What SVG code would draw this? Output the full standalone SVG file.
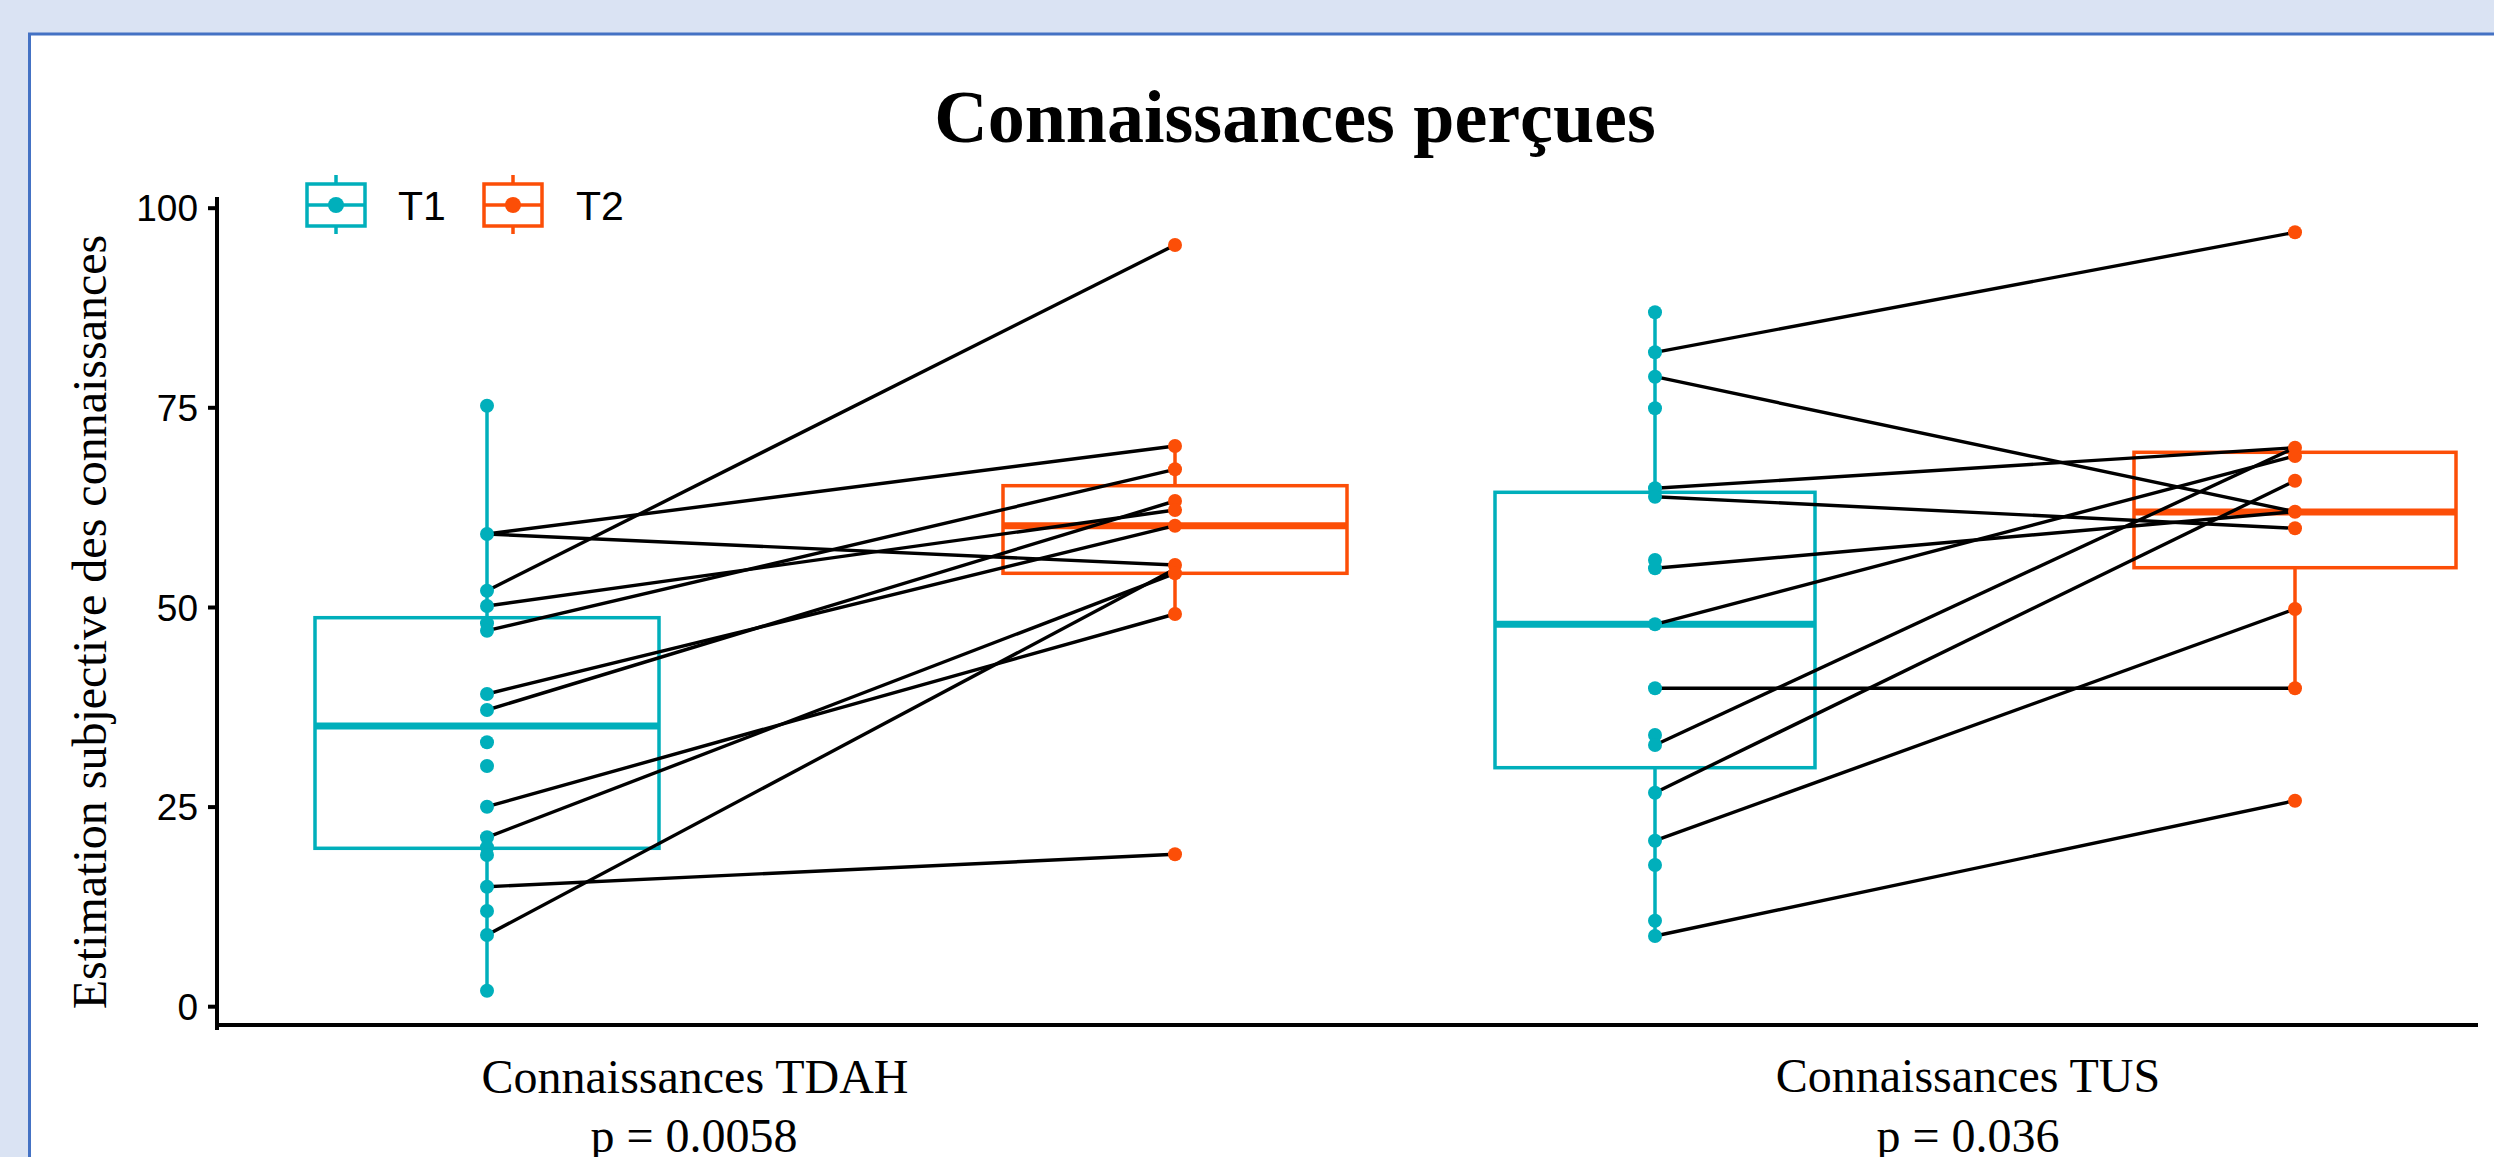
<svg xmlns="http://www.w3.org/2000/svg" width="2494" height="1157" viewBox="0 0 2494 1157">
<style>
.bg{fill:#DAE3F3}
.frame{fill:#ffffff;stroke:#4472C4;stroke-width:3}
.t1{stroke:#00AFBB;fill:none;stroke-width:3.5}
.t2{stroke:#FC4E07;fill:none;stroke-width:3.5}
.med1{stroke:#00AFBB;stroke-width:7}
.med2{stroke:#FC4E07;stroke-width:7}
.p1{fill:#00AFBB}
.p2{fill:#FC4E07}
.ax{stroke:#000;stroke-width:4;fill:none}
.conn line{stroke:#000;stroke-width:3.4;fill:none}
.tick{font-family:"Liberation Sans",Arial,sans-serif;font-size:37px;fill:#000;text-anchor:end}
.leg{font-family:"Liberation Sans",Arial,sans-serif;font-size:41px;fill:#000}
.serif{font-family:"Liberation Serif","Times New Roman",serif;fill:#000}
</style>
<rect class="bg" x="0" y="0" width="2494" height="1157"/>
<rect class="frame" x="29.5" y="34" width="2480" height="1140"/>

<g id="title"><text class="serif" x="1295" y="142" font-size="74" font-weight="bold" text-anchor="middle">Connaissances perçues</text></g>

<g id="legend">
  <line class="t1" x1="336" y1="175" x2="336" y2="234"/>
  <rect class="t1" x="307" y="184" width="58" height="42" style="fill:#fff"/>
  <line class="t1" x1="307" y1="205" x2="365" y2="205"/>
  <circle class="p1" cx="336" cy="205" r="8"/>
  <text class="leg" x="398" y="220">T1</text>
  <line class="t2" x1="513" y1="175" x2="513" y2="234"/>
  <rect class="t2" x="484" y="184" width="58" height="42" style="fill:#fff"/>
  <line class="t2" x1="484" y1="205" x2="542" y2="205"/>
  <circle class="p2" cx="513" cy="205" r="8"/>
  <text class="leg" x="576" y="220">T2</text>
</g>

<g id="axes">
  <line class="ax" x1="217" y1="197" x2="217" y2="1030"/>
  <line class="ax" x1="217" y1="1025" x2="2478" y2="1025"/>
  <g class="ax">
    <line x1="208" y1="208.2" x2="217" y2="208.2"/>
    <line x1="208" y1="407.8" x2="217" y2="407.8"/>
    <line x1="208" y1="607.5" x2="217" y2="607.5"/>
    <line x1="208" y1="807.1" x2="217" y2="807.1"/>
    <line x1="208" y1="1006.7" x2="217" y2="1006.7"/>
  </g>
  <text class="tick" x="198" y="221">100</text>
  <text class="tick" x="198" y="421">75</text>
  <text class="tick" x="198" y="621">50</text>
  <text class="tick" x="198" y="820">25</text>
  <text class="tick" x="198" y="1020">0</text>
  <text class="serif" font-size="48" text-anchor="middle" transform="translate(106,622) rotate(-90)">Estimation subjective des connaissances</text>
  <text class="serif" font-size="48" text-anchor="middle" x="695" y="1093">Connaissances TDAH</text>
  <text class="serif" font-size="48" text-anchor="middle" x="694" y="1152">p = 0.0058</text>
  <text class="serif" font-size="48" text-anchor="middle" x="1968" y="1092">Connaissances TUS</text>
  <text class="serif" font-size="48" text-anchor="middle" x="1968" y="1152">p = 0.036</text>
</g>

<g id="box-tdah-t1">
  <line class="t1" x1="487" y1="405.7" x2="487" y2="617.7"/>
  <line class="t1" x1="487" y1="848.3" x2="487" y2="990.7"/>
  <rect class="t1" x="315" y="617.7" width="344" height="230.6"/>
  <line class="med1" x1="315" y1="726" x2="659" y2="726"/>
</g>
<g id="box-tdah-t2">
  <line class="t2" x1="1175" y1="446" x2="1175" y2="485.7"/>
  <line class="t2" x1="1175" y1="573.3" x2="1175" y2="614"/>
  <rect class="t2" x="1003" y="485.7" width="344" height="87.6"/>
  <line class="med2" x1="1003" y1="525.7" x2="1347" y2="525.7"/>
</g>
<g id="box-tus-t1">
  <line class="t1" x1="1655" y1="312.3" x2="1655" y2="492.3"/>
  <line class="t1" x1="1655" y1="767.7" x2="1655" y2="936"/>
  <rect class="t1" x="1495" y="492.3" width="320" height="275.4"/>
  <line class="med1" x1="1495" y1="624.3" x2="1815" y2="624.3"/>
</g>
<g id="box-tus-t2">
  <line class="t2" x1="2295" y1="447.7" x2="2295" y2="452.3"/>
  <line class="t2" x1="2295" y1="567.7" x2="2295" y2="688.3"/>
  <rect class="t2" x="2134" y="452.3" width="322" height="115.4"/>
  <line class="med2" x1="2134" y1="512" x2="2456" y2="512"/>
</g>

<g id="connectors" class="conn">
  <line x1="487" y1="534" x2="1175" y2="446"/>
  <line x1="487" y1="534" x2="1175" y2="565"/>
  <line x1="487" y1="590.7" x2="1175" y2="245"/>
  <line x1="487" y1="606" x2="1175" y2="510"/>
  <line x1="487" y1="630.7" x2="1175" y2="469.3"/>
  <line x1="487" y1="694" x2="1175" y2="525.7"/>
  <line x1="487" y1="710" x2="1175" y2="501"/>
  <line x1="487" y1="806.7" x2="1175" y2="614"/>
  <line x1="487" y1="837.3" x2="1175" y2="573.3"/>
  <line x1="487" y1="886.7" x2="1175" y2="854.3"/>
  <line x1="487" y1="935" x2="1175" y2="569"/>
  <line x1="1655" y1="352.3" x2="2295" y2="232.3"/>
  <line x1="1655" y1="376.7" x2="2295" y2="511.7"/>
  <line x1="1655" y1="488.3" x2="2295" y2="447.7"/>
  <line x1="1655" y1="496.7" x2="2295" y2="528.3"/>
  <line x1="1655" y1="568.3" x2="2295" y2="511.7"/>
  <line x1="1655" y1="624.3" x2="2295" y2="456"/>
  <line x1="1655" y1="688.3" x2="2295" y2="688.3"/>
  <line x1="1655" y1="745" x2="2295" y2="447.7"/>
  <line x1="1655" y1="792.7" x2="2295" y2="480.7"/>
  <line x1="1655" y1="840.7" x2="2295" y2="609"/>
  <line x1="1655" y1="936" x2="2295" y2="800.7"/>
</g>

<g id="points-tdah-t1" class="p1">
  <circle cx="487" cy="405.7" r="7"/><circle cx="487" cy="534" r="7"/>
  <circle cx="487" cy="590.7" r="7"/><circle cx="487" cy="606" r="7"/>
  <circle cx="487" cy="623.3" r="7"/><circle cx="487" cy="630.7" r="7"/>
  <circle cx="487" cy="694" r="7"/><circle cx="487" cy="710" r="7"/>
  <circle cx="487" cy="742.3" r="7"/><circle cx="487" cy="766" r="7"/>
  <circle cx="487" cy="806.7" r="7"/><circle cx="487" cy="837.3" r="7"/>
  <circle cx="487" cy="847.3" r="7"/><circle cx="487" cy="855" r="7"/>
  <circle cx="487" cy="886.7" r="7"/><circle cx="487" cy="911" r="7"/>
  <circle cx="487" cy="935" r="7"/><circle cx="487" cy="990.7" r="7"/>
</g>
<g id="points-tdah-t2" class="p2">
  <circle cx="1175" cy="245" r="7"/><circle cx="1175" cy="446" r="7"/>
  <circle cx="1175" cy="469.3" r="7"/><circle cx="1175" cy="501" r="7"/>
  <circle cx="1175" cy="510" r="7"/><circle cx="1175" cy="525.7" r="7"/>
  <circle cx="1175" cy="565" r="7"/><circle cx="1175" cy="573.3" r="7"/>
  <circle cx="1175" cy="614" r="7"/><circle cx="1175" cy="854.3" r="7"/>
</g>
<g id="points-tus-t1" class="p1">
  <circle cx="1655" cy="312.3" r="7"/><circle cx="1655" cy="352.3" r="7"/>
  <circle cx="1655" cy="376.7" r="7"/><circle cx="1655" cy="408.3" r="7"/>
  <circle cx="1655" cy="488.3" r="7"/><circle cx="1655" cy="496.7" r="7"/>
  <circle cx="1655" cy="560" r="7"/><circle cx="1655" cy="568.3" r="7"/>
  <circle cx="1655" cy="624.3" r="7"/><circle cx="1655" cy="688.3" r="7"/>
  <circle cx="1655" cy="735" r="7"/><circle cx="1655" cy="745" r="7"/>
  <circle cx="1655" cy="792.7" r="7"/><circle cx="1655" cy="840.7" r="7"/>
  <circle cx="1655" cy="865" r="7"/><circle cx="1655" cy="920.7" r="7"/>
  <circle cx="1655" cy="936" r="7"/>
</g>
<g id="points-tus-t2" class="p2">
  <circle cx="2295" cy="232.3" r="7"/><circle cx="2295" cy="447.7" r="7"/>
  <circle cx="2295" cy="456" r="7"/><circle cx="2295" cy="480.7" r="7"/>
  <circle cx="2295" cy="511.7" r="7"/><circle cx="2295" cy="528.3" r="7"/>
  <circle cx="2295" cy="609" r="7"/><circle cx="2295" cy="688.3" r="7"/>
  <circle cx="2295" cy="800.7" r="7"/>
</g>
</svg>
